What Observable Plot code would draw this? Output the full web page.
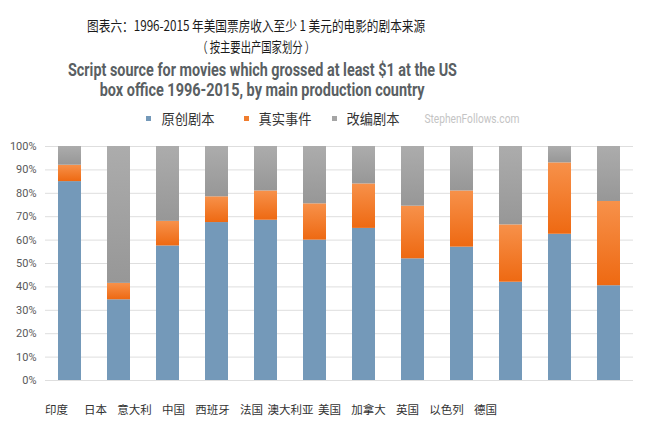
<!DOCTYPE html>
<html><head><meta charset="utf-8">
<script src="https://cdn.jsdelivr.net/npm/d3@7"></script>
<script src="https://cdn.jsdelivr.net/npm/@observablehq/plot@0.6"></script>
<style>
body{margin:0;background:#fff;}
#wrap{position:relative;width:645px;height:435px;overflow:hidden;background:#fff;}
.t{position:absolute;white-space:nowrap;line-height:1;}
.fit{display:inline-block;transform-origin:center center;}
.sq{position:absolute;width:5px;height:5px;}
</style></head><body><div id="wrap"></div>
<script>
// ---- data ----
const countries = ["印度","日本","意大利","中国","西班牙","法国","澳大利亚","美国","加拿大","英国","以色列","德国"];
const original  = [85, 34.5, 57.5, 67.5, 68.5, 60, 65, 52, 57, 42, 62.5, 40.5];
const trueStory = [7, 7, 10.5, 11, 12.5, 15.5, 19, 22.5, 24, 24.5, 30.5, 36];
const adapted   = [8, 58.5, 32, 21.5, 19, 24.5, 16, 25.5, 19, 33.5, 7, 23.5];
const seriesNames = ["原创剧本","真实事件","改编剧本"];
const yTicks = [0,10,20,30,40,50,60,70,80,90,100];
const titleZh1 = "图表六：1996-2015 年美国票房收入至少 1 美元的电影的剧本来源";
const titleZh2 = "（ 按主要出产国家划分 ）";
const titleEn1 = "Script source for movies which grossed at least $1 at the US";
const titleEn2 = "box office 1996-2015, by main production country";
const credit = "StephenFollows.com";

const wrap = document.getElementById("wrap");

function addText(text, cx, cy, size, opts){
  const d = document.createElement("div");
  d.className = "t";
  d.style.left = (cx - 300) + "px";
  d.style.width = "600px";
  d.style.textAlign = "center";
  d.style.top = (cy - size/2) + "px";
  d.style.fontSize = size + "px";
  d.style.fontFamily = opts.font;
  d.style.fontWeight = opts.weight || "normal";
  d.style.color = opts.color;
  const s = document.createElement("span");
  s.className = "fit";
  s.textContent = text;
  d.appendChild(s);
  wrap.appendChild(d);
  if (opts.w) {
    const w = s.getBoundingClientRect().width;
    s.style.transform = `scaleX(${opts.w / w})`;
  }
}

addText(titleZh1, 256, 25, 14, {font:"'Noto Sans CJK SC'", color:"#1a1a1a", w:338});
addText(titleZh2, 256, 46, 14, {font:"'Noto Sans CJK SC'", color:"#1a1a1a", w:118});
addText(titleEn1, 262, 70, 18, {font:"Roboto", weight:"bold", color:"#5a5f63", w:389});
addText(titleEn2, 262, 90, 18, {font:"Roboto", weight:"bold", color:"#5a5f63", w:325});
addText(credit, 472, 119, 12, {font:"Roboto", color:"#c4c4c4", w:95});

const legendColors = ["#7499b9","#f07d2e","#a5a5a5"];
const legendSqX = [146, 244, 332];
const legendTxtX = [188, 285, 373];
seriesNames.forEach((n,i)=>{
  const q = document.createElement("div");
  q.className = "sq";
  q.style.left = legendSqX[i] + "px";
  q.style.top = "116px";
  q.style.background = legendColors[i];
  wrap.appendChild(q);
  addText(n, legendTxtX[i], 118, 14, {font:"'Noto Sans CJK SC'", color:"#333", w:53});
});

// ---- main chart ----
const rows = countries.flatMap((c,i)=>[
  {country:c, source:seriesNames[0], value:original[i]},
  {country:c, source:seriesNames[1], value:trueStory[i]},
  {country:c, source:seriesNames[2], value:adapted[i]}
]);

const chart = Plot.plot({
  width:645, height:260,
  marginTop:16, marginBottom:10, marginLeft:45, marginRight:12,
  style:{fontFamily:"Roboto, 'Noto Sans', sans-serif", fontSize:"11px", color:"#595959", background:"transparent", overflow:"visible"},
  x:{domain:countries, paddingInner:0.53, paddingOuter:0.265, axis:null},
  y:{domain:[0,100], ticks:yTicks, tickFormat:d=>d+"%", label:null, tickSize:0, tickPadding:9},
  color:{domain:seriesNames, range:["#7499b9","url(#gOrange)","url(#gGray)"]},
  marks:[
    Plot.ruleY(yTicks, {stroke:"#dedede", strokeWidth:1}),
    Plot.barY(rows, {x:"country", y:"value", fill:"source", inset:0})
  ]
});
const defs = d3.select(chart).insert("defs", ":first-child");
function grad(id, top, bottom){
  const g = defs.append("linearGradient").attr("id", id).attr("x1",0).attr("y1",0).attr("x2",0).attr("y2",1);
  g.append("stop").attr("offset","0%").attr("stop-color", top);
  g.append("stop").attr("offset","100%").attr("stop-color", bottom);
}
grad("gOrange", "#f7914a", "#ee6912");
grad("gGray", "#acacac", "#979797");
chart.style.position = "absolute";
chart.style.left = "0px";
chart.style.top = "130px";
wrap.appendChild(chart);

// ---- category labels row ----
const labelPlot = Plot.plot({
  width:645, height:30,
  marginTop:0, marginBottom:0, marginLeft:52, marginRight:156,
  style:{fontFamily:"'Noto Sans CJK SC', sans-serif", fontSize:"11.5px", color:"#333", background:"transparent"},
  x:{type:"point", domain:countries, padding:0, axis:null},
  marks:[
    Plot.text(countries, {x:d=>d, text:d=>d, frameAnchor:"middle", fill:"#333", fontSize:11.5})
  ]
});
labelPlot.style.position = "absolute";
labelPlot.style.left = "0px";
labelPlot.style.top = "395px";
wrap.appendChild(labelPlot);
</script></body></html>
